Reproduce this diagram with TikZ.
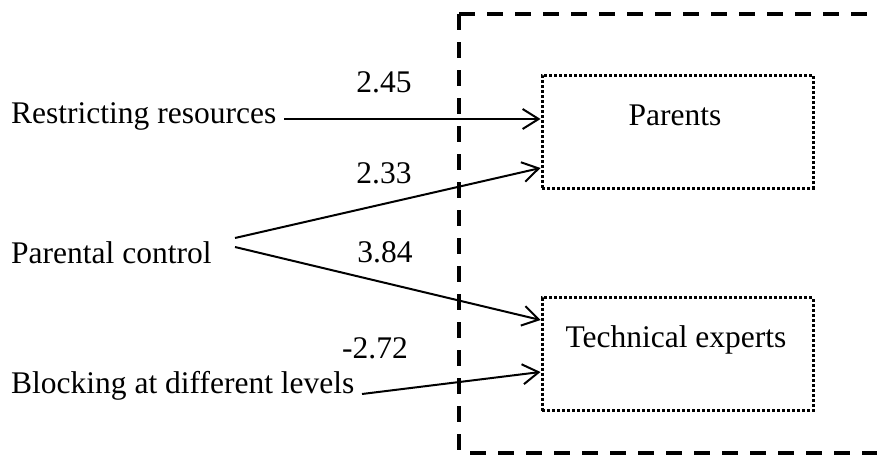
\documentclass[tikz,border=0pt]{standalone}
\usepackage{fontspec}
\setmainfont{Liberation Serif}
\usetikzlibrary{arrows.meta}
\begin{document}
\begin{tikzpicture}[x=1pt,y=-1pt,
  lbl/.style={inner sep=0pt,font=\fontsize{31.5}{36}\selectfont},
  dotbox/.style={draw,line width=3pt,dash pattern=on 3pt off 2pt,
    minimum width=271pt,minimum height=113pt,inner sep=0pt},
  groupline/.style={line width=3.5pt,dash pattern=on 16pt off 12pt},
  arr/.style={line width=2pt,-{Straight Barb[length=16pt,width=20pt,line width=2pt]}}]
\useasboundingbox (0,0) rectangle (877,455);

% outer group frame (open to the right)
\coordinate (gTL) at (459,14);
\coordinate (gBL) at (459,452);
\draw[groupline] (gTL) -- (900,14);
\draw[groupline] (gTL) -- (gBL);
\draw[groupline] (470,453) -- (900,453);

% target boxes
\node[dotbox] (par) at (677.5,131.5) {};
\node[lbl,anchor=base] (parT) at (675,125) {Parents};
\node[dotbox] (tech) at (677.5,354) {};
\node[lbl,anchor=base] (techT) at (676,347) {Technical experts};

% source labels
\node[lbl,anchor=base west] (rr) at (11,123) {Restricting resources};
\node[lbl,anchor=base west] (pc) at (11,263) {Parental control};
\node[lbl,anchor=base west] (bl) at (11,393) {Blocking at different levels};

% connector ends
\coordinate (rrS) at (284,119);
\coordinate (pcU) at (235,238);
\coordinate (pcD) at (235,247);
\coordinate (blS) at (362,394);
\coordinate (parA) at (par.west |- 0,119);
\coordinate (parB) at (par.west |- 0,168);
\coordinate (techA) at (tech.west |- 0,320);
\coordinate (techB) at (tech.west |- 0,372);

\draw[arr] (rrS) -- (parA);
\draw[arr] (pcU) -- (parB);
\draw[arr] (pcD) -- (techA);
\draw[arr] (blS) -- (techB);

% path coefficients
\node[lbl,anchor=base] (c1) at (384,92) {2.45};
\node[lbl,anchor=base] (c2) at (384,183) {2.33};
\node[lbl,anchor=base] (c3) at (385,262) {3.84};
\node[lbl,anchor=base] (c4) at (375,358) {-2.72};
\end{tikzpicture}
\end{document}
